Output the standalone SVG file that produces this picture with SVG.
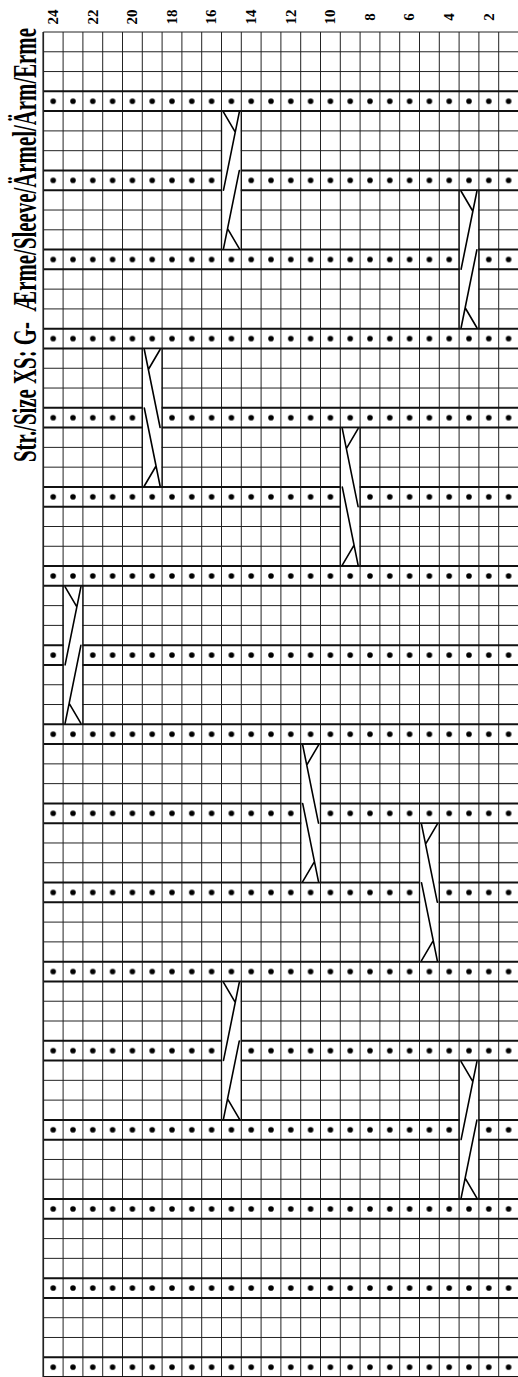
<svg xmlns="http://www.w3.org/2000/svg" xmlns:xlink="http://www.w3.org/1999/xlink" width="518" height="1377" viewBox="0 0 518 1377">
<style>
.thin{fill:none;stroke:#222;stroke-width:1}
.thick{fill:none;stroke:#111;stroke-width:2}
.num{font-family:"Liberation Serif","Times New Roman",serif;font-weight:bold;font-size:15px;fill:#000;text-anchor:middle}
.title{font-family:"Liberation Serif","Times New Roman",serif;font-weight:bold;font-size:33px;fill:#000;white-space:pre}
.cab{fill:none;stroke:#000;stroke-width:1.6;stroke-linecap:round}
.cbord{fill:none;stroke:#111;stroke-width:1.3}
</style>
<defs>
<pattern id="dots" patternUnits="userSpaceOnUse" x="43.3" y="32" width="19.8" height="19.78">
<circle cx="9.9" cy="9.89" r="2.8" fill="#000"/>
</pattern>
<g id="cableA">
<rect x="0.6" y="1.1" width="18.6" height="136.3" fill="#fff"/>
<path class="cbord" d="M0 0V138.46M19.8 0V138.46"/>
<path class="cab" d="M2 1L13.75 21M17.8 1L2 79M17.8 59.5L2 137.5M6.05 117.5L17.8 137.5"/>
</g>
<g id="cableB">
<rect x="0.6" y="1.1" width="18.6" height="136.3" fill="#fff"/>
<path class="cbord" d="M0 0V138.46M19.8 0V138.46"/>
<path class="cab" d="M17.8 1L6.05 21M2 1L17.8 79M2 59.5L17.8 137.5M13.75 117.5L2 137.5"/>
</g>
</defs>
<rect width="518" height="1377" fill="#fff"/>
<g id="title">
<text class="title" transform="translate(36,462) rotate(-90)" textLength="434" lengthAdjust="spacingAndGlyphs">Str./Size XS: G-  Ærme/Sleeve/Ärmel/Ärm/Erme</text>
</g>
<g id="column-numbers">
<text class="num" transform="translate(58,17) rotate(-90)">24</text>
<text class="num" transform="translate(97.6,17) rotate(-90)">22</text>
<text class="num" transform="translate(137.2,17) rotate(-90)">20</text>
<text class="num" transform="translate(176.8,17) rotate(-90)">18</text>
<text class="num" transform="translate(216.4,17) rotate(-90)">16</text>
<text class="num" transform="translate(256,17) rotate(-90)">14</text>
<text class="num" transform="translate(295.6,17) rotate(-90)">12</text>
<text class="num" transform="translate(335.2,17) rotate(-90)">10</text>
<text class="num" transform="translate(374.8,17) rotate(-90)">8</text>
<text class="num" transform="translate(414.4,17) rotate(-90)">6</text>
<text class="num" transform="translate(454,17) rotate(-90)">4</text>
<text class="num" transform="translate(493.6,17) rotate(-90)">2</text>
</g>
<g id="dot-rows">
<rect x="43.3" y="91.34" width="475.2" height="19.78" fill="url(#dots)"/>
<rect x="43.3" y="170.46" width="475.2" height="19.78" fill="url(#dots)"/>
<rect x="43.3" y="249.58" width="475.2" height="19.78" fill="url(#dots)"/>
<rect x="43.3" y="328.7" width="475.2" height="19.78" fill="url(#dots)"/>
<rect x="43.3" y="407.82" width="475.2" height="19.78" fill="url(#dots)"/>
<rect x="43.3" y="486.94" width="475.2" height="19.78" fill="url(#dots)"/>
<rect x="43.3" y="566.06" width="475.2" height="19.78" fill="url(#dots)"/>
<rect x="43.3" y="645.18" width="475.2" height="19.78" fill="url(#dots)"/>
<rect x="43.3" y="724.3" width="475.2" height="19.78" fill="url(#dots)"/>
<rect x="43.3" y="803.42" width="475.2" height="19.78" fill="url(#dots)"/>
<rect x="43.3" y="882.54" width="475.2" height="19.78" fill="url(#dots)"/>
<rect x="43.3" y="961.66" width="475.2" height="19.78" fill="url(#dots)"/>
<rect x="43.3" y="1040.78" width="475.2" height="19.78" fill="url(#dots)"/>
<rect x="43.3" y="1119.9" width="475.2" height="19.78" fill="url(#dots)"/>
<rect x="43.3" y="1199.02" width="475.2" height="19.78" fill="url(#dots)"/>
<rect x="43.3" y="1278.14" width="475.2" height="19.78" fill="url(#dots)"/>
<rect x="43.3" y="1357.26" width="475.2" height="19.78" fill="url(#dots)"/>
</g>
<g id="grid">
<path class="thin" d="M43.3 32V1377M63.1 32V1377M82.9 32V1377M102.7 32V1377M122.5 32V1377M142.3 32V1377M162.1 32V1377M181.9 32V1377M201.7 32V1377M221.5 32V1377M241.3 32V1377M261.1 32V1377M280.9 32V1377M300.7 32V1377M320.5 32V1377M340.3 32V1377M360.1 32V1377M379.9 32V1377M399.7 32V1377M419.5 32V1377M439.3 32V1377M459.1 32V1377M478.9 32V1377M498.7 32V1377"/>
<path class="thin" d="M43.3 32H518.5M43.3 51.78H518.5M43.3 71.56H518.5M43.3 130.9H518.5M43.3 150.68H518.5M43.3 210.02H518.5M43.3 229.8H518.5M43.3 289.14H518.5M43.3 308.92H518.5M43.3 368.26H518.5M43.3 388.04H518.5M43.3 447.38H518.5M43.3 467.16H518.5M43.3 526.5H518.5M43.3 546.28H518.5M43.3 605.62H518.5M43.3 625.4H518.5M43.3 684.74H518.5M43.3 704.52H518.5M43.3 763.86H518.5M43.3 783.64H518.5M43.3 842.98H518.5M43.3 862.76H518.5M43.3 922.1H518.5M43.3 941.88H518.5M43.3 1001.22H518.5M43.3 1021H518.5M43.3 1080.34H518.5M43.3 1100.12H518.5M43.3 1159.46H518.5M43.3 1179.24H518.5M43.3 1238.58H518.5M43.3 1258.36H518.5M43.3 1317.7H518.5M43.3 1337.48H518.5"/>
<path class="thick" d="M43.3 91.34H518.5M43.3 111.12H518.5M43.3 170.46H518.5M43.3 190.24H518.5M43.3 249.58H518.5M43.3 269.36H518.5M43.3 328.7H518.5M43.3 348.48H518.5M43.3 407.82H518.5M43.3 427.6H518.5M43.3 486.94H518.5M43.3 506.72H518.5M43.3 566.06H518.5M43.3 585.84H518.5M43.3 645.18H518.5M43.3 664.96H518.5M43.3 724.3H518.5M43.3 744.08H518.5M43.3 803.42H518.5M43.3 823.2H518.5M43.3 882.54H518.5M43.3 902.32H518.5M43.3 961.66H518.5M43.3 981.44H518.5M43.3 1040.78H518.5M43.3 1060.56H518.5M43.3 1119.9H518.5M43.3 1139.68H518.5M43.3 1199.02H518.5M43.3 1218.8H518.5M43.3 1278.14H518.5M43.3 1297.92H518.5M43.3 1357.26H518.5M43.3 1377.04H518.5"/>
<path class="thin" d="M43.3 32V1377" style="stroke-width:1.6"/>
</g>
<g id="cables">
<use xlink:href="#cableA" x="221.5" y="111.12"/>
<use xlink:href="#cableA" x="459.1" y="190.24"/>
<use xlink:href="#cableB" x="142.3" y="348.48"/>
<use xlink:href="#cableB" x="340.3" y="427.6"/>
<use xlink:href="#cableA" x="63.1" y="585.84"/>
<use xlink:href="#cableB" x="300.7" y="744.08"/>
<use xlink:href="#cableB" x="419.5" y="823.2"/>
<use xlink:href="#cableA" x="221.5" y="981.44"/>
<use xlink:href="#cableA" x="459.1" y="1060.56"/>
</g>
</svg>
